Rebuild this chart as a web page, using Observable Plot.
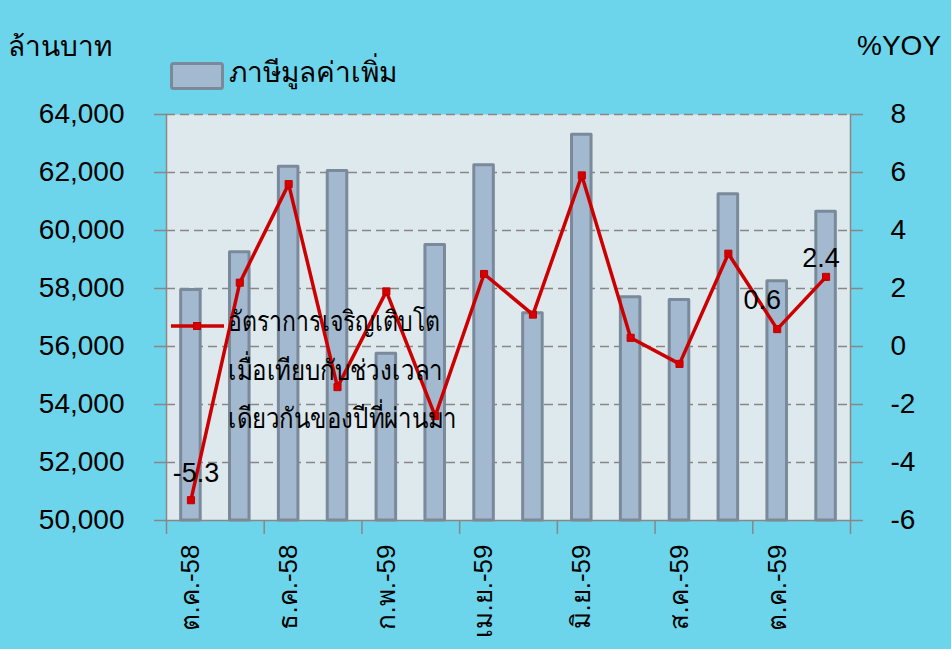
<!DOCTYPE html>
<html>
<head>
<meta charset="utf-8">
<script src="https://cdn.jsdelivr.net/npm/d3@7"></script>
<script src="https://cdn.jsdelivr.net/npm/@observablehq/plot@0.6"></script>
<style>
  html, body { margin: 0; padding: 0; background: #6dd5eb; }
  #wrap { position: relative; width: 951px; height: 649px; background: #6dd5eb; overflow: hidden; }
  #wrap svg { position: absolute; left: 0; top: 0; }
  #overlay { pointer-events: none; }
  text { font-family: "Liberation Sans", "Noto Sans", sans-serif; }
</style>
</head>
<body>
<div id="wrap"></div>
<script>
// ---- data ----
const months = ["ต.ค.-58","พ.ย.-58","ธ.ค.-58","ม.ค.-59","ก.พ.-59","มี.ค.-59","เม.ย.-59",
                "พ.ค.-59","มิ.ย.-59","ก.ค.-59","ส.ค.-59","ก.ย.-59","ต.ค.-59","พ.ย.-59"];
const vat = [57950, 59250, 62200, 62050, 55750, 59500, 62250, 57150, 63300, 57700, 57600, 61250, 58250, 60650];
const yoy = [-5.3, 2.2, 5.6, -1.4, 1.9, -2.4, 2.5, 1.1, 5.9, 0.3, -0.6, 3.2, 0.6, 2.4];
const leftTicks = [50000, 52000, 54000, 56000, 58000, 60000, 62000, 64000];
const rightTicks = [-6, -4, -2, 0, 2, 4, 6, 8];
const xLabels = ["ต.ค.-58","ธ.ค.-58","ก.พ.-59","เม.ย.-59","มิ.ย.-59","ส.ค.-59","ต.ค.-59"];
const labeledPoints = ["ต.ค.-58","ต.ค.-59","พ.ย.-59"];
const leftTitle = "ล้านบาท";
const rightTitle = "%YOY";
const barName = "ภาษีมูลค่าเพิ่ม";
const lineName = ["อัตราการเจริญเติบโต", "เมื่อเทียบกับช่วงเวลา", "เดียวกันของปีที่ผ่านมา"];

const data = months.map((m, i) => ({month: m, vat: vat[i], yoy: yoy[i]}));
// map the %YOY secondary axis (-6..8) onto the primary domain (50000..64000)
const yoyToY = v => 50000 + (v + 6) * 1000;
const yToYoy = y => (y - 50000) / 1000 - 6;

const W = 951, H = 649, mL = 166, mR = 101, mT = 114, mB = 129;
const step = (W - mL - mR) / months.length;
const FONT = '"Liberation Sans", "Noto Sans", sans-serif';
const grey = "#878787";

const chart = Plot.plot({
  width: W, height: H,
  marginLeft: mL, marginRight: mR, marginTop: mT, marginBottom: mB,
  style: {background: "transparent", fontFamily: FONT, fontSize: "28px", color: "#000", overflow: "visible"},
  x: {type: "band", domain: months, paddingInner: 0.6, paddingOuter: 0.3, round: false},
  y: {domain: [50000, 64000]},
  marks: [
    Plot.frame({fill: "#dee9ee"}),
    Plot.gridY(leftTicks.slice(1), {stroke: grey, strokeOpacity: 1, strokeWidth: 1.5, strokeDasharray: "9,5"}),
    Plot.barY(data, {x: "month", y1: 50000, y2: "vat", fill: "#a2b9d0", stroke: "#7a8a9b", strokeWidth: 3, strokeLinejoin: "round"}),
    Plot.ruleY([50000], {stroke: grey, strokeWidth: 1.5}),
    Plot.frame({anchor: "left", stroke: grey, strokeWidth: 1.5}),
    Plot.frame({anchor: "right", stroke: grey, strokeWidth: 1.5}),
    Plot.axisY({anchor: "left", ticks: leftTicks, tickFormat: d3.format(","), tickSize: 12, tickPadding: 30,
                stroke: grey, strokeWidth: 1.5, fill: "#000", fontSize: 28, label: null}),
    Plot.axisY({anchor: "right", ticks: rightTicks.map(yoyToY), tickFormat: d => String(Math.round(yToYoy(d))),
                tickSize: 12, tickPadding: 28, stroke: grey, strokeWidth: 1.5, fill: "#000", fontSize: 28, label: null}),
    Plot.axisX({ticks: months.filter((d, i) => i % 2 === 0), tickSize: 14, tickFormat: () => "", dx: -step / 2,
                stroke: grey, strokeWidth: 1.5, label: null}),
    Plot.axisX({ticks: [months[months.length - 1]], tickSize: 14, tickFormat: () => "", dx: step / 2,
                stroke: grey, strokeWidth: 1.5, label: null}),
    Plot.axisX({ticks: xLabels, tickSize: 0, tickRotate: -90, tickPadding: 24, fontSize: 26, fill: "#000", label: null}),
    Plot.line(data, {x: "month", y: d => yoyToY(d.yoy), stroke: "#cc0000", strokeWidth: 3.5}),
    Plot.dot(data, {x: "month", y: d => yoyToY(d.yoy), symbol: "square", r: 4, fill: "#d50000", stroke: "#c00000", strokeWidth: 1}),
    Plot.text(data.filter(d => d.month === labeledPoints[0]), {x: "month", y: d => yoyToY(d.yoy), text: d => String(d.yoy),
                dx: 5, dy: -27, fontSize: 27, fill: "#000"}),
    Plot.text(data.filter(d => d.month === labeledPoints[1]), {x: "month", y: d => yoyToY(d.yoy), text: d => String(d.yoy),
                dx: -15, dy: -29, fontSize: 27, fill: "#000"}),
    Plot.text(data.filter(d => d.month === labeledPoints[2]), {x: "month", y: d => yoyToY(d.yoy), text: d => String(d.yoy),
                dx: -5, dy: -19, fontSize: 27, fill: "#000"})
  ]
});

const wrap = document.getElementById("wrap");
wrap.appendChild(chart);

// ---- titles and legends (overlay) ----
const ov = d3.select(wrap).append("svg").attr("id", "overlay")
  .attr("width", W).attr("height", H)
  .style("font-family", FONT).style("font-size", "28px");

ov.append("text").attr("x", 8).attr("y", 56).text(leftTitle);
ov.append("text").attr("x", 857).attr("y", 55).text(rightTitle);

ov.append("rect").attr("x", 171.5).attr("y", 63.5).attr("width", 51).attr("height", 25).attr("rx", 2)
  .attr("fill", "#a2b9d0").attr("stroke", "#7a8a9b").attr("stroke-width", 3);
ov.append("text").attr("x", 229).attr("y", 82).text(barName);

ov.append("line").attr("x1", 171).attr("x2", 224).attr("y1", 326).attr("y2", 326)
  .attr("stroke", "#cc0000").attr("stroke-width", 3.5);
ov.append("rect").attr("x", 193.5).attr("y", 322.5).attr("width", 7).attr("height", 7)
  .attr("fill", "#d50000").attr("stroke", "#c00000");
const base = [331, 380, 428];
const widths = [212, 215, 229];
lineName.forEach((t, i) => ov.append("text").attr("x", 228).attr("y", base[i])
  .attr("textLength", widths[i]).attr("lengthAdjust", "spacingAndGlyphs").text(t));
</script>
</body>
</html>
